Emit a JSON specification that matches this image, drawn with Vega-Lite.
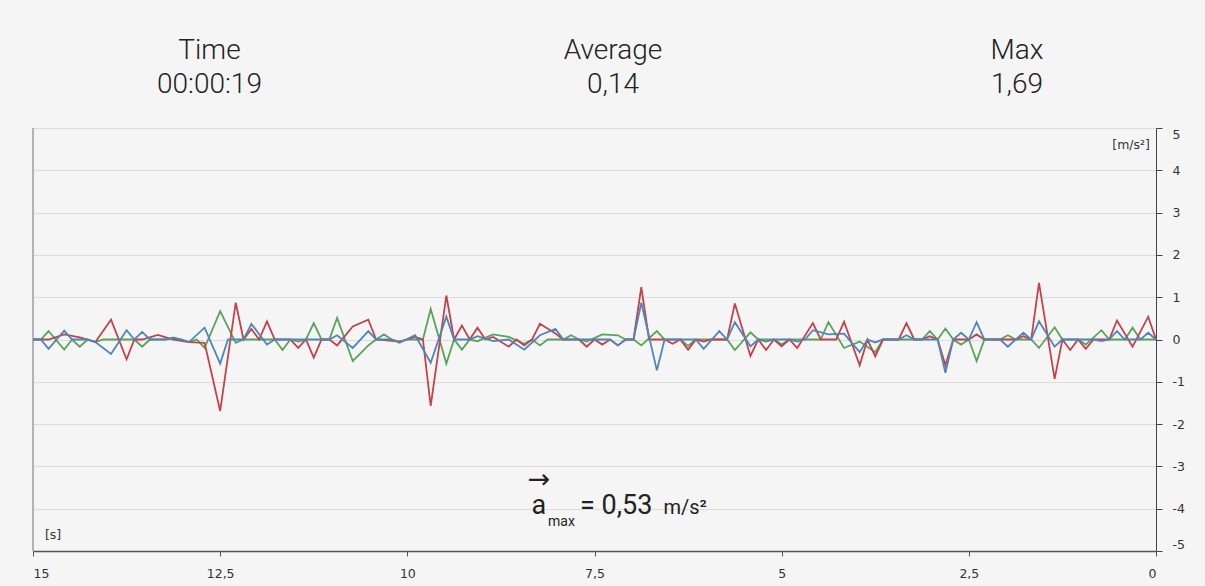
{
"$schema": "https://vega.github.io/schema/vega-lite/v6.json",
"width": 1123, "height": 423,
"autosize": {"type": "none"},
"padding": {"left": 33, "top": 128, "right": 49, "bottom": 35},
"background": "#f5f5f5",
"config": {"view": {"stroke": null}, "font": "Roboto"},
"datasets": {
"red": [
{"t":15,"v":0},{"t":14.792,"v":0},{"t":14.583,"v":0.12},{"t":14.375,"v":0.05},{"t":14.167,"v":-0.06},{"t":13.958,"v":0.47},{"t":13.75,"v":-0.47},{"t":13.646,"v":0},{"t":13.542,"v":0},{"t":13.333,"v":0.11},{"t":13.125,"v":0},{"t":12.917,"v":-0.06},{"t":12.708,"v":-0.08},{"t":12.5,"v":-1.69},{"t":12.292,"v":0.87},{"t":12.188,"v":0},{"t":12.083,"v":0.25},{"t":11.979,"v":0},{"t":11.875,"v":0.43},{"t":11.771,"v":0},{"t":11.563,"v":0},{"t":11.458,"v":-0.2},{"t":11.354,"v":0},{"t":11.25,"v":-0.43},{"t":11.146,"v":0},{"t":11.042,"v":0},{"t":10.938,"v":-0.14},{"t":10.729,"v":0.31},{"t":10.521,"v":0.47},{"t":10.417,"v":0},{"t":10.104,"v":-0.05},{"t":10,"v":0},{"t":9.896,"v":0.06},{"t":9.792,"v":0},{"t":9.688,"v":-1.57},{"t":9.479,"v":1.04},{"t":9.375,"v":0},{"t":9.271,"v":0.33},{"t":9.167,"v":0},{"t":9.063,"v":0.28},{"t":8.958,"v":0},{"t":8.854,"v":0.06},{"t":8.646,"v":-0.17},{"t":8.542,"v":0},{"t":8.438,"v":-0.14},{"t":8.333,"v":0},{"t":8.229,"v":0.37},{"t":8.021,"v":0.14},{"t":7.917,"v":0},{"t":7.708,"v":0},{"t":7.604,"v":-0.17},{"t":7.5,"v":0},{"t":7.396,"v":-0.12},{"t":7.292,"v":0},{"t":7.188,"v":-0.14},{"t":7.083,"v":0},{"t":6.979,"v":0},{"t":6.875,"v":1.24},{"t":6.771,"v":0},{"t":6.563,"v":0},{"t":6.458,"v":-0.1},{"t":6.354,"v":0},{"t":6.25,"v":-0.24},{"t":6.146,"v":0},{"t":6.042,"v":-0.05},{"t":5.938,"v":0},{"t":5.729,"v":0},{"t":5.625,"v":0.85},{"t":5.417,"v":-0.39},{"t":5.313,"v":0},{"t":5.208,"v":-0.25},{"t":5.104,"v":0},{"t":5,"v":-0.16},{"t":4.896,"v":0},{"t":4.792,"v":-0.2},{"t":4.583,"v":0.39},{"t":4.479,"v":0},{"t":4.271,"v":0},{"t":4.167,"v":0.42},{"t":3.958,"v":-0.61},{"t":3.854,"v":0},{"t":3.75,"v":-0.4},{"t":3.646,"v":0},{"t":3.438,"v":0},{"t":3.333,"v":0.39},{"t":3.229,"v":0},{"t":3.125,"v":0},{"t":3.021,"v":0.08},{"t":2.917,"v":0},{"t":2.813,"v":-0.61},{"t":2.708,"v":0},{"t":2.5,"v":0},{"t":2.396,"v":0.12},{"t":2.292,"v":0},{"t":1.875,"v":0},{"t":1.771,"v":0.08},{"t":1.667,"v":0},{"t":1.563,"v":1.34},{"t":1.354,"v":-0.93},{"t":1.25,"v":0},{"t":1.146,"v":-0.25},{"t":1.042,"v":0},{"t":0.938,"v":-0.22},{"t":0.833,"v":0},{"t":0.625,"v":0},{"t":0.521,"v":0.45},{"t":0.313,"v":-0.17},{"t":0.104,"v":0.54},{"t":0,"v":0}
],
"blue": [
{"t":15,"v":0},{"t":14.896,"v":0},{"t":14.792,"v":-0.22},{"t":14.583,"v":0.21},{"t":14.479,"v":0},{"t":14.271,"v":0},{"t":14.167,"v":-0.06},{"t":13.958,"v":-0.34},{"t":13.75,"v":0.22},{"t":13.646,"v":0},{"t":13.542,"v":0.18},{"t":13.438,"v":0},{"t":13.229,"v":0},{"t":13.125,"v":0.03},{"t":13.021,"v":0},{"t":12.917,"v":-0.06},{"t":12.708,"v":0.28},{"t":12.5,"v":-0.57},{"t":12.396,"v":0},{"t":12.188,"v":0},{"t":12.083,"v":0.37},{"t":11.875,"v":-0.12},{"t":11.771,"v":0},{"t":11.042,"v":0},{"t":10.938,"v":0.1},{"t":10.729,"v":-0.2},{"t":10.521,"v":0.2},{"t":10.417,"v":0},{"t":10.208,"v":0},{"t":10.104,"v":-0.08},{"t":9.896,"v":0.1},{"t":9.688,"v":-0.55},{"t":9.479,"v":0.54},{"t":9.375,"v":0},{"t":9.167,"v":0},{"t":9.063,"v":0.08},{"t":8.854,"v":-0.04},{"t":8.646,"v":0},{"t":8.438,"v":-0.24},{"t":8.229,"v":0.1},{"t":8.021,"v":0.25},{"t":7.917,"v":0},{"t":7.292,"v":0},{"t":7.188,"v":-0.14},{"t":7.083,"v":0},{"t":6.979,"v":0},{"t":6.875,"v":0.87},{"t":6.667,"v":-0.73},{"t":6.563,"v":0},{"t":6.146,"v":0},{"t":6.042,"v":-0.22},{"t":5.833,"v":0.2},{"t":5.729,"v":0},{"t":5.625,"v":0.41},{"t":5.417,"v":-0.16},{"t":5.313,"v":0},{"t":5.208,"v":-0.05},{"t":5.104,"v":0},{"t":4.896,"v":0},{"t":4.792,"v":-0.05},{"t":4.688,"v":0},{"t":4.583,"v":0.22},{"t":4.375,"v":0.12},{"t":4.167,"v":0.14},{"t":3.958,"v":-0.3},{"t":3.854,"v":0},{"t":3.75,"v":-0.07},{"t":3.646,"v":0},{"t":3.438,"v":0},{"t":3.333,"v":0.1},{"t":3.229,"v":0},{"t":2.917,"v":0},{"t":2.813,"v":-0.79},{"t":2.708,"v":0},{"t":2.604,"v":0.16},{"t":2.5,"v":0},{"t":2.396,"v":0.41},{"t":2.292,"v":0},{"t":2.083,"v":0},{"t":1.979,"v":-0.17},{"t":1.875,"v":0},{"t":1.771,"v":0.16},{"t":1.667,"v":0},{"t":1.563,"v":0.43},{"t":1.354,"v":-0.17},{"t":1.25,"v":0},{"t":0.833,"v":0},{"t":0.729,"v":-0.04},{"t":0.625,"v":0},{"t":0.521,"v":0.2},{"t":0.417,"v":0},{"t":0.208,"v":0},{"t":0.104,"v":0.16},{"t":0,"v":0}
],
"green": [
{"t":15,"v":0},{"t":14.896,"v":0},{"t":14.792,"v":0.2},{"t":14.583,"v":-0.24},{"t":14.479,"v":0},{"t":14.375,"v":-0.17},{"t":14.271,"v":0},{"t":14.167,"v":-0.06},{"t":14.063,"v":0},{"t":13.646,"v":0},{"t":13.542,"v":-0.17},{"t":13.438,"v":0},{"t":13.229,"v":0},{"t":13.125,"v":0.05},{"t":13.021,"v":0},{"t":12.917,"v":-0.06},{"t":12.813,"v":0},{"t":12.708,"v":-0.2},{"t":12.5,"v":0.67},{"t":12.292,"v":-0.08},{"t":12.188,"v":0},{"t":11.771,"v":0},{"t":11.667,"v":-0.25},{"t":11.563,"v":0},{"t":11.458,"v":-0.05},{"t":11.354,"v":0},{"t":11.25,"v":0.39},{"t":11.146,"v":0},{"t":11.042,"v":0},{"t":10.938,"v":0.51},{"t":10.729,"v":-0.51},{"t":10.521,"v":-0.14},{"t":10.417,"v":0},{"t":10.313,"v":0.12},{"t":10.208,"v":0},{"t":10.104,"v":-0.05},{"t":10,"v":0},{"t":9.792,"v":0},{"t":9.688,"v":0.72},{"t":9.479,"v":-0.57},{"t":9.375,"v":0},{"t":9.271,"v":-0.24},{"t":9.167,"v":0},{"t":9.063,"v":-0.04},{"t":8.854,"v":0.12},{"t":8.646,"v":0.06},{"t":8.438,"v":-0.1},{"t":8.333,"v":0},{"t":8.229,"v":-0.14},{"t":8.125,"v":0},{"t":7.917,"v":0},{"t":7.813,"v":0.1},{"t":7.708,"v":0},{"t":7.604,"v":-0.05},{"t":7.396,"v":0.12},{"t":7.188,"v":0.1},{"t":7.083,"v":0},{"t":6.979,"v":0},{"t":6.875,"v":-0.14},{"t":6.667,"v":0.2},{"t":6.563,"v":0},{"t":6.354,"v":0},{"t":6.25,"v":-0.15},{"t":6.146,"v":0},{"t":5.729,"v":0},{"t":5.625,"v":-0.25},{"t":5.417,"v":0.17},{"t":5.313,"v":0},{"t":5.104,"v":0},{"t":5,"v":-0.12},{"t":4.896,"v":0},{"t":4.479,"v":0},{"t":4.375,"v":0.41},{"t":4.167,"v":-0.2},{"t":3.958,"v":-0.05},{"t":3.75,"v":-0.3},{"t":3.646,"v":0},{"t":3.125,"v":0},{"t":3.021,"v":0.2},{"t":2.917,"v":0},{"t":2.813,"v":0.26},{"t":2.708,"v":0},{"t":2.604,"v":-0.12},{"t":2.5,"v":0},{"t":2.396,"v":-0.51},{"t":2.292,"v":0},{"t":2.083,"v":0},{"t":1.979,"v":0.1},{"t":1.875,"v":0},{"t":1.667,"v":0},{"t":1.563,"v":-0.2},{"t":1.354,"v":0.29},{"t":1.25,"v":0},{"t":1.042,"v":0},{"t":0.938,"v":-0.12},{"t":0.729,"v":0.22},{"t":0.625,"v":0},{"t":0.417,"v":0},{"t":0.313,"v":0.28},{"t":0.208,"v":0},{"t":0,"v":0}
],
"labels": [
{"key":"time","text":"Time"},{"key":"timev","text":"00:00:19"},
{"key":"avg","text":"Average"},{"key":"avgv","text":"0,14"},
{"key":"max","text":"Max"},{"key":"maxv","text":"1,69"},
{"key":"yunit","text":"[m/s²]"},{"key":"xunit","text":"[s]"},
{"key":"arrow","text":"→"},{"key":"a","text":"a"},{"key":"sub","text":"max"},
{"key":"eq","text":"= 0,53"},{"key":"unit","text":"m/s²"}
]
},
"layer": [
{"data": {"values": [{}]},
 "mark": {"type": "rule", "color": "#9e9e9e", "strokeWidth": 1.5},
 "encoding": {"x": {"datum": 15, "type": "quantitative", "scale": {"domain": [0, 15], "reverse": true, "nice": false, "zero": false}}}},
{"data": {"name": "green"},
 "mark": {"type": "line", "color": "#5ba35b", "strokeWidth": 1.8},
 "encoding": {
  "x": {"field": "t", "type": "quantitative",
        "scale": {"domain": [0, 15], "reverse": true, "nice": false, "zero": false},
        "axis": {"values": [15, 12.5, 10, 7.5, 5, 2.5, 0], "labelExpr": "replace('' + datum.value, '.', ',')", "title": null, "grid": false,
                 "domainColor": "#555555", "domainWidth": 1.5, "tickColor": "#555555", "tickSize": 5, "labelPadding": 11,
                 "labelFont": "DejaVu Sans", "labelFontSize": 12.5, "labelColor": "#333333", "labelFlush": true}},
  "y": {"field": "v", "type": "quantitative",
        "scale": {"domain": [-5, 5], "nice": false, "zero": false},
        "axis": {"orient": "right", "values": [-5, -4, -3, -2, -1, 0, 1, 2, 3, 4, 5], "labelExpr": "'' + datum.value", "title": null,
                 "grid": true, "gridColor": "#dcdcdc", "gridWidth": 1, "domainColor": "#444444", "domainWidth": 1,
                 "tickColor": "#444444", "tickSize": 6, "labelPadding": 10, "labelFlush": true,
                 "labelFont": "DejaVu Sans", "labelFontSize": 12.5, "labelColor": "#333333"}}}},
{"data": {"name": "red"},
 "mark": {"type": "line", "color": "#c4434b", "strokeWidth": 1.8},
 "encoding": {"x": {"field": "t", "type": "quantitative"}, "y": {"field": "v", "type": "quantitative"}}},
{"data": {"name": "blue"},
 "mark": {"type": "line", "color": "#4f86b9", "strokeWidth": 1.8},
 "encoding": {"x": {"field": "t", "type": "quantitative"}, "y": {"field": "v", "type": "quantitative"}}},
{"data": {"name": "labels"},
 "layer": [
  {"transform": [{"filter": "datum.key == 'time'"}], "mark": {"type": "text", "font": "Roboto", "fontWeight": 300, "fontSize": 28, "color": "#222222", "align": "center", "baseline": "alphabetic"},
   "encoding": {"x": {"datum": 12.643, "type": "quantitative"}, "y": {"datum": 6.643, "type": "quantitative"}, "text": {"field": "text"}}},
  {"transform": [{"filter": "datum.key == 'avg'"}], "mark": {"type": "text", "font": "Roboto", "fontWeight": 300, "fontSize": 28, "color": "#222222", "align": "center", "baseline": "alphabetic"},
   "encoding": {"x": {"datum": 7.253, "type": "quantitative"}, "y": {"datum": 6.643, "type": "quantitative"}, "text": {"field": "text"}}},
  {"transform": [{"filter": "datum.key == 'max'"}], "mark": {"type": "text", "font": "Roboto", "fontWeight": 300, "fontSize": 28, "color": "#222222", "align": "center", "baseline": "alphabetic"},
   "encoding": {"x": {"datum": 1.857, "type": "quantitative"}, "y": {"datum": 6.643, "type": "quantitative"}, "text": {"field": "text"}}},
  {"transform": [{"filter": "datum.key == 'timev'"}], "mark": {"type": "text", "font": "Roboto", "fontWeight": 300, "fontSize": 28, "color": "#222222", "align": "center", "baseline": "alphabetic"},
   "encoding": {"x": {"datum": 12.643, "type": "quantitative"}, "y": {"datum": 5.827, "type": "quantitative"}, "text": {"field": "text"}}},
  {"transform": [{"filter": "datum.key == 'avgv'"}], "mark": {"type": "text", "font": "Roboto", "fontWeight": 300, "fontSize": 28, "color": "#222222", "align": "center", "baseline": "alphabetic"},
   "encoding": {"x": {"datum": 7.253, "type": "quantitative"}, "y": {"datum": 5.827, "type": "quantitative"}, "text": {"field": "text"}}},
  {"transform": [{"filter": "datum.key == 'maxv'"}], "mark": {"type": "text", "font": "Roboto", "fontWeight": 300, "fontSize": 28, "color": "#222222", "align": "center", "baseline": "alphabetic"},
   "encoding": {"x": {"datum": 1.857, "type": "quantitative"}, "y": {"datum": 5.827, "type": "quantitative"}, "text": {"field": "text"}}},
  {"transform": [{"filter": "datum.key == 'yunit'"}], "mark": {"type": "text", "font": "DejaVu Sans", "fontSize": 12.5, "color": "#333333", "align": "right", "baseline": "alphabetic"},
   "encoding": {"x": {"datum": 0.081, "type": "quantitative"}, "y": {"datum": 4.508, "type": "quantitative"}, "text": {"field": "text"}}},
  {"transform": [{"filter": "datum.key == 'xunit'"}], "mark": {"type": "text", "font": "DejaVu Sans", "fontSize": 12.5, "color": "#333333", "align": "left", "baseline": "alphabetic"},
   "encoding": {"x": {"datum": 14.84, "type": "quantitative"}, "y": {"datum": -4.728, "type": "quantitative"}, "text": {"field": "text"}}},
  {"transform": [{"filter": "datum.key == 'arrow'"}], "mark": {"type": "text", "font": "DejaVu Sans", "fontSize": 27, "color": "#222222", "align": "center", "baseline": "alphabetic"},
   "encoding": {"x": {"datum": 8.242, "type": "quantitative"}, "y": {"datum": -3.52, "type": "quantitative"}, "text": {"field": "text"}}},
  {"transform": [{"filter": "datum.key == 'a'"}], "mark": {"type": "text", "font": "Roboto", "fontSize": 27, "color": "#222222", "align": "left", "baseline": "alphabetic"},
   "encoding": {"x": {"datum": 8.34, "type": "quantitative"}, "y": {"datum": -4.121, "type": "quantitative"}, "text": {"field": "text"}}},
  {"transform": [{"filter": "datum.key == 'sub'"}], "mark": {"type": "text", "font": "Roboto", "fontSize": 14, "color": "#222222", "align": "left", "baseline": "alphabetic"},
   "encoding": {"x": {"datum": 8.121, "type": "quantitative"}, "y": {"datum": -4.414, "type": "quantitative"}, "text": {"field": "text"}}},
  {"transform": [{"filter": "datum.key == 'eq'"}], "mark": {"type": "text", "font": "Roboto", "fontSize": 27, "color": "#222222", "align": "left", "baseline": "alphabetic"},
   "encoding": {"x": {"datum": 7.694, "type": "quantitative"}, "y": {"datum": -4.121, "type": "quantitative"}, "text": {"field": "text"}}},
  {"transform": [{"filter": "datum.key == 'unit'"}], "mark": {"type": "text", "font": "Roboto", "fontSize": 20, "color": "#222222", "align": "left", "baseline": "alphabetic"},
   "encoding": {"x": {"datum": 6.579, "type": "quantitative"}, "y": {"datum": -4.121, "type": "quantitative"}, "text": {"field": "text"}}}
 ]}
]
}
